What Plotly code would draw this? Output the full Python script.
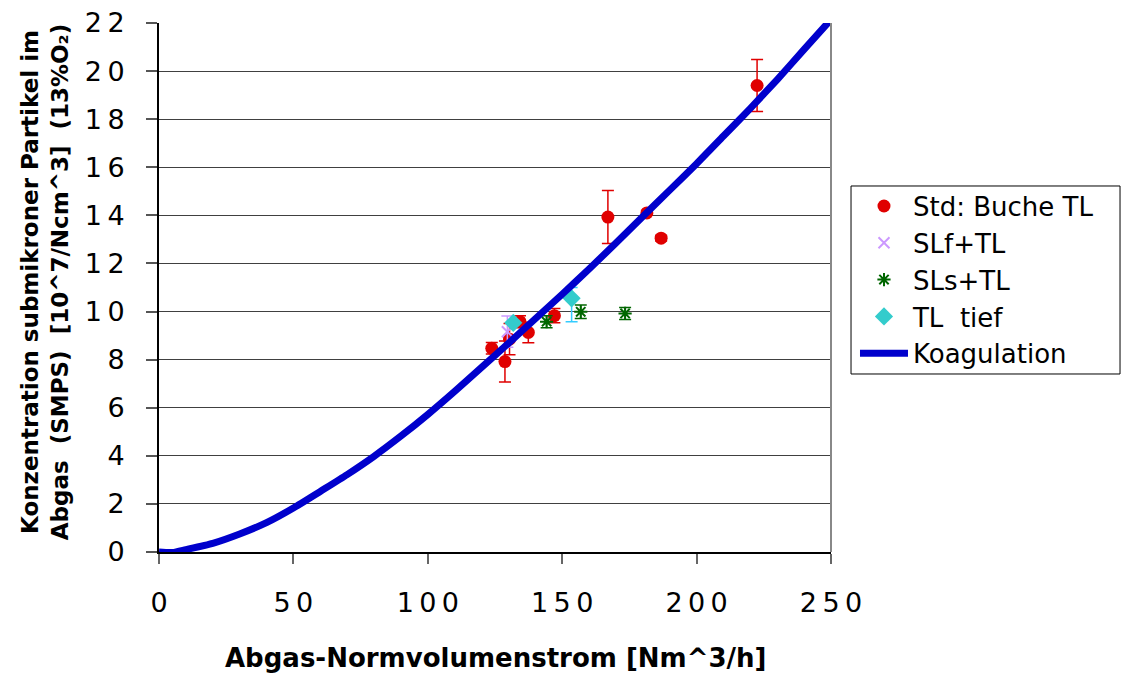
import plotly.graph_objects as go

# Measured particle concentrations (10^7 / Ncm^3, 13 % O2) vs. flue gas flow (Nm^3/h)
std_x = [123.8, 128.7, 130.4, 134.3, 137.4, 147.1, 167.0, 181.5, 186.8, 222.5]
std_y = [8.47, 7.92, 8.85, 9.58, 9.13, 9.83, 13.93, 14.10, 13.05, 19.40]
std_err = [0.24, 0.85, 0.65, 0.25, 0.43, 0.30, 1.10, 0.10, 0.12, 1.08]

slf_x = [129.6]
slf_y = [9.16]
slf_err = [0.65]

sls_x = [144.2, 156.9, 173.4]
sls_y = [9.58, 9.99, 9.92]
sls_err = [0.25, 0.28, 0.25]

tl_x = [131.8, 153.5]
tl_y = [9.53, 10.55]
tl_err_plus = [0.10, 0.45]
tl_err_minus = [0.10, 0.97]

# Coagulation model curve
koag_x = [0, 5, 10, 20, 30, 40, 50, 60, 70, 80, 90, 100, 110, 120, 130, 140,
          150, 160, 170, 180, 190, 200, 210, 220, 230, 240, 250]
koag_y = [0.0, -0.02, 0.10, 0.36, 0.75, 1.22, 1.83, 2.52, 3.22, 3.98, 4.82, 5.72,
          6.68, 7.68, 8.68, 9.7, 10.72, 11.77, 12.85, 13.95, 15.05, 16.15, 17.3,
          18.45, 19.65, 20.9, 22.15]

x_ticks = [0, 50, 100, 150, 200, 250]
y_ticks = list(range(0, 23, 2))

FONT = "DejaVu Sans"
TS = "\u2009"  # thin space between digits


def spaced(v):
    return TS.join(str(v))


fig = go.Figure()

fig.add_trace(go.Scatter(
    x=std_x, y=std_y, mode="markers", name="Std: Buche TL",
    marker=dict(symbol="circle", size=13, color="#e00000"),
    error_y=dict(type="data", array=std_err, color="#e00000", thickness=1.5, width=6),
))
fig.add_trace(go.Scatter(
    x=slf_x, y=slf_y, mode="markers", name="SLf+TL",
    marker=dict(symbol="x-thin-open", size=11, color="#cc99ff",
                line=dict(color="#cc99ff", width=2)),
    error_y=dict(type="data", array=slf_err, color="#cc99ff", thickness=1.5, width=6),
))
fig.add_trace(go.Scatter(
    x=sls_x, y=sls_y, mode="markers", name="SLs+TL",
    marker=dict(symbol="asterisk-open", size=11, color="#006600",
                line=dict(color="#006600", width=2)),
    error_y=dict(type="data", array=sls_err, color="#006600", thickness=1.5, width=6),
))
fig.add_trace(go.Scatter(
    x=tl_x, y=tl_y, mode="markers", name="TL\u00a0 tief",
    marker=dict(symbol="diamond", size=14, color="#33cccc"),
    error_y=dict(type="data", symmetric=False, array=tl_err_plus,
                 arrayminus=tl_err_minus, color="#33ccff", thickness=1.5, width=6),
))
fig.add_trace(go.Scatter(
    x=koag_x, y=koag_y, mode="lines", name="Koagulation",
    line=dict(color="#0000cc", width=7, shape="spline", smoothing=0.6),
))

fig.update_layout(
    width=1121, height=675,
    margin=dict(l=159, r=290, t=23, b=123),
    paper_bgcolor="white", plot_bgcolor="white",
    font=dict(family=FONT, color="black"),
    showlegend=True,
    legend=dict(
        x=1.0357, y=0.514, xanchor="left", yanchor="middle",
        borderwidth=0, bgcolor="rgba(0,0,0,0)",
        font=dict(family=FONT, size=26, color="black"),
        itemwidth=48, tracegroupgap=0,
    ),
    xaxis=dict(
        range=[0, 250], tickvals=x_ticks, ticktext=[spaced(v) for v in x_ticks],
        showgrid=False, zeroline=False, automargin=False,
        showline=True, linecolor="black", linewidth=1.5,
        ticks="outside", ticklen=10, tickcolor="#666666", tickwidth=1.5,
        tickfont=dict(family=FONT, size=27, color="black"),
        ticklabelstandoff=16,
    ),
    yaxis=dict(
        range=[0, 22], tickvals=y_ticks, ticktext=[spaced(v) for v in y_ticks],
        showgrid=True, gridcolor="#404040", gridwidth=1, zeroline=False,
        automargin=False,
        showline=True, linecolor="black", linewidth=2,
        ticks="outside", ticklen=11, tickcolor="#555555", tickwidth=1.5,
        tickfont=dict(family=FONT, size=27, color="black"),
        ticklabelstandoff=16,
    ),
    shapes=[
        # right frame edge of the plot area
        dict(type="line", xref="paper", yref="paper", x0=1, x1=1, y0=0, y1=1,
             line=dict(color="#888888", width=2)),
        # legend frame
        dict(type="rect", xref="paper", yref="paper",
             x0=1.0298, x1=1.4301, y0=0.3365, y1=0.6919,
             line=dict(color="black", width=1), fillcolor="rgba(0,0,0,0)"),
    ],
    annotations=[
        dict(text="Abgas-Normvolumenstrom [Nm^3/h]", xref="paper", yref="paper",
             x=0.5, y=-0.2004, xanchor="center", yanchor="middle", showarrow=False,
             font=dict(family=FONT, size=26, color="black", weight="bold")),
        dict(text="Konzentration submikroner Partikel im<br>"
                  "Abgas\u00a0 (SMPS)\u00a0 [10^7/Ncm^3]\u00a0 (13%O\u2082)",
             xref="paper", yref="paper", x=-0.1696, y=0.51,
             xanchor="center", yanchor="middle", textangle=-90, showarrow=False,
             font=dict(family=FONT, size=23, color="black", weight="bold")),
    ],
)

fig.write_html("out.html")
